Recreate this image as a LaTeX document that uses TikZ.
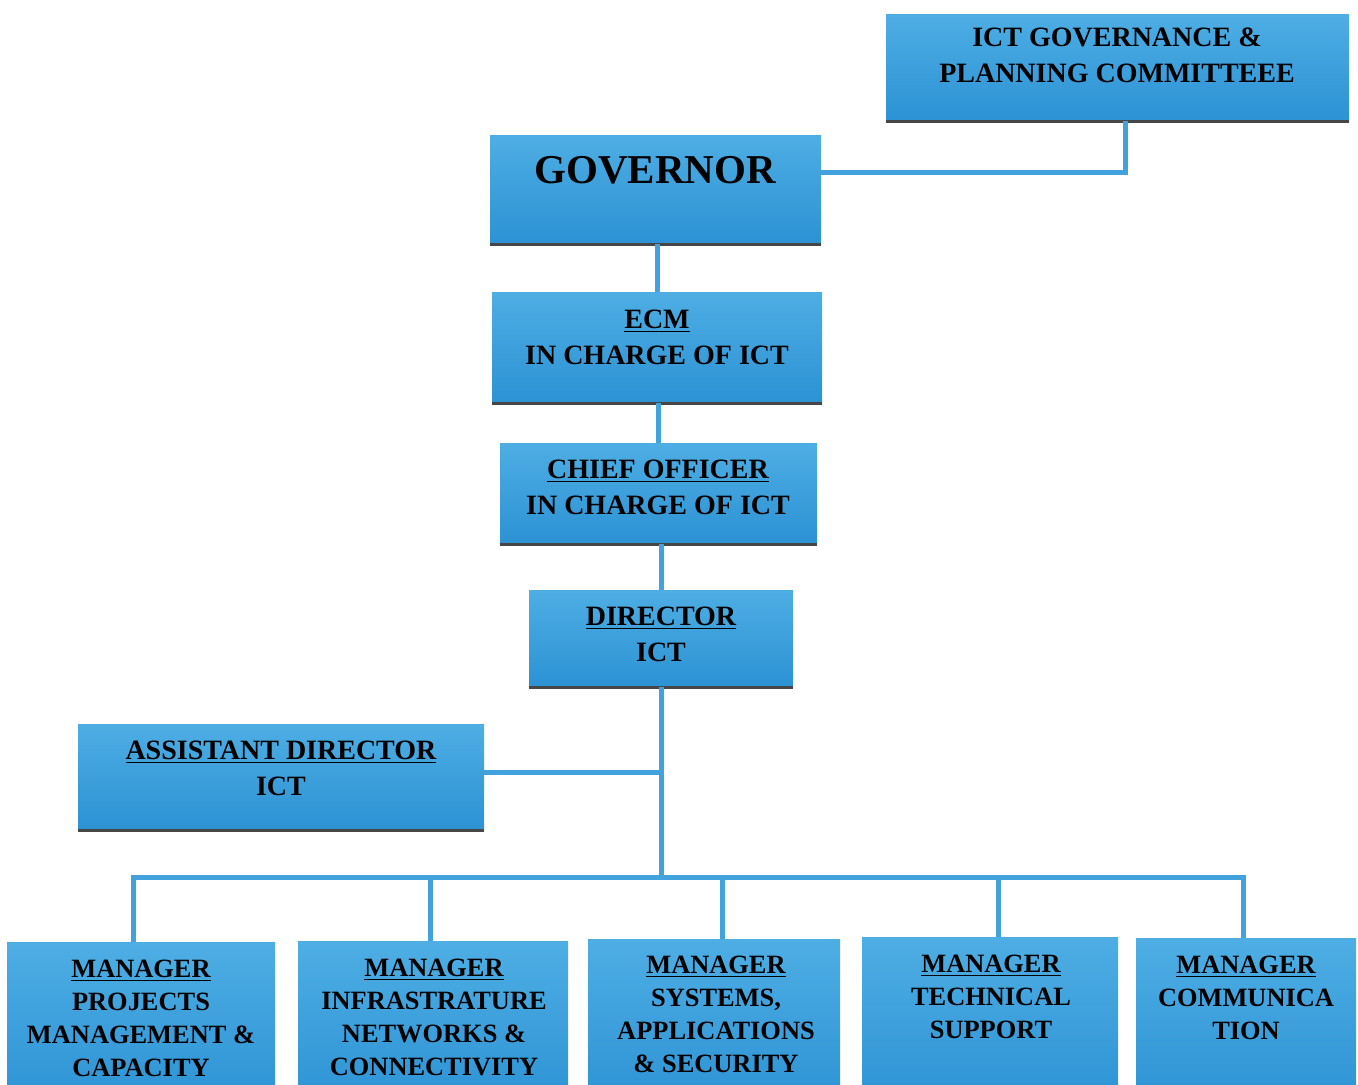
\documentclass[tikz,border=0pt]{standalone}
\usepackage{fontspec}
\setmainfont{Liberation Serif}
\usetikzlibrary{fit,calc}
\definecolor{boxtop}{RGB}{78,174,228}
\definecolor{boxbot}{RGB}{44,146,212}
\definecolor{connc}{RGB}{66,162,222}
\definecolor{edgec}{RGB}{70,70,70}
\tikzset{
  box/.style={rectangle, inner sep=0pt, top color=boxtop, bottom color=boxbot, draw=none},
  conn/.style={draw=connc, line width=2.5pt},
  edgeln/.style={draw=edgec, line width=1.4pt},
  txt/.style={align=center, inner sep=0pt, font=\bfseries\fontsize{14}{18}\selectfont},
  txts/.style={align=center, inner sep=0pt, font=\bfseries\fontsize{13.2}{16.5}\selectfont},
}
\begin{document}
\begin{tikzpicture}[x=0.5pt,y=-0.5pt]
\clip (0,0) rectangle (1358,1084);
\fill[white] (0,0) rectangle (1358,1084);

% boxes
\node[box, fit={(886,14) (1349,121)}] (ict) {};
\node[box, fit={(490,135) (821,244)}] (gov) {};
\node[box, fit={(492,292) (822,403)}] (ecm) {};
\node[box, fit={(500,443) (817,544)}] (chief) {};
\node[box, fit={(529,590) (793,687)}] (dir) {};
\node[box, fit={(78,724) (484,830)}] (asst) {};
\node[box, fit={(7,942) (275,1110)}] (m1) {};
\node[box, fit={(298,941) (568,1110)}] (m2) {};
\node[box, fit={(588,939) (840,1110)}] (m3) {};
\node[box, fit={(862,937) (1118,1110)}] (m4) {};
\node[box, fit={(1136,938) (1356,1110)}] (m5) {};

% dark bottom edges
\foreach \n in {ict,gov,ecm,chief,dir,asst}{
  \draw[edgeln] (\n.south west) -- (\n.south east);
}

% connectors
\draw[conn] ($(gov.east)+(0,-17.5)$) -| ($(ict.south)+(7.5,0)$);
\draw[conn] (gov.south -| ecm.north) -- (ecm.north);
\draw[conn] (ecm.south -| chief.north) -- (chief.north);
\draw[conn] (chief.south -| dir.north) -- (dir.north);
\coordinate (bus) at ($(m1.north)+(-8,-64)$);
\draw[conn] (dir.south) -- (dir.south |- bus);
\draw[conn] ($(asst.east)+(0,-5)$) -- ($(asst.east -| dir.south)+(0,-5)$);
\draw[conn] ($(m1.north)+(-8,0)$) -- (bus) -| ($(m5.north)+(-3,0)$);
\draw[conn] ($(m2.north)+(-3,0)$) -- ($(m2.north |- bus)+(-3,0)$);
\draw[conn] ($(m3.north)+(8,0)$) -- ($(m3.north |- bus)+(8,0)$);
\draw[conn] ($(m4.north)+(8,0)$) -- ($(m4.north |- bus)+(8,0)$);

% texts
\node[txt] (ict-t) at (1117,55) {ICT GOVERNANCE \&\\PLANNING COMMITTEEE};
\node[align=center, inner sep=0pt, font=\bfseries\fontsize{20.5}{24}\selectfont] (gov-t) at (655,170) {GOVERNOR};
\node[txt] (ecm-t) at (657,337) {\underline{ECM}\\IN CHARGE OF ICT};
\node[txt] (chief-t) at (658,487) {\underline{CHIEF OFFICER}\\IN CHARGE OF ICT};
\node[txt] (dir-t) at (661,634) {\underline{DIRECTOR}\\ICT};
\node[txt] (asst-t) at (281,768) {\underline{ASSISTANT DIRECTOR}\\ICT};
\node[txts] (m1-t) at (141,1018) {\underline{MANAGER}\\PROJECTS\\MANAGEMENT \&\\CAPACITY};
\node[txts] (m2-t) at (434,1017) {\underline{MANAGER}\\INFRASTRATURE\\NETWORKS \&\\CONNECTIVITY};
\node[txts] (m3-t) at (716,1014) {\underline{MANAGER}\\SYSTEMS,\\APPLICATIONS\\\& SECURITY};
\node[txts] (m4-t) at (991,997) {\underline{MANAGER}\\TECHNICAL\\SUPPORT};
\node[txts] (m5-t) at (1246,998) {\underline{MANAGER}\\COMMUNICA\\TION};
\end{tikzpicture}
\end{document}
